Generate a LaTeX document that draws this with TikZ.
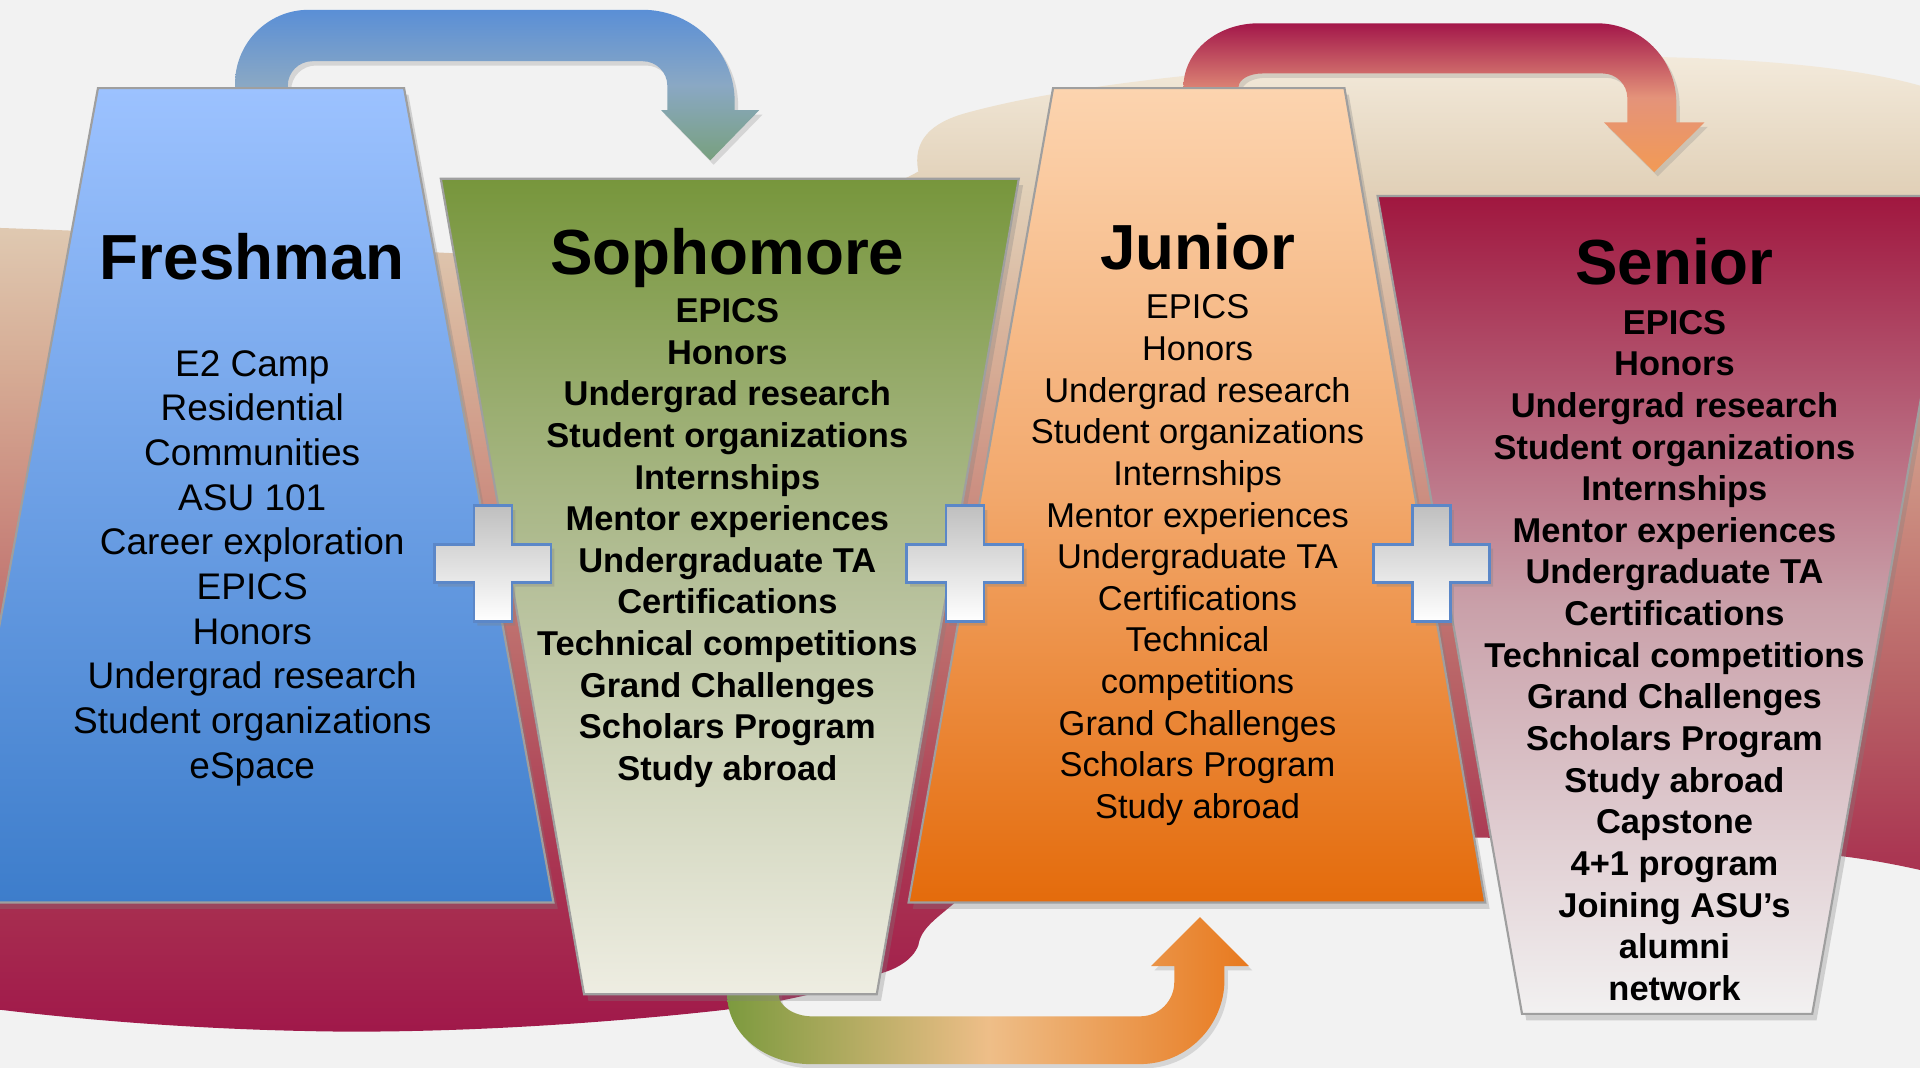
\documentclass[tikz,border=0pt]{standalone}
\usepackage{fontspec}
\setmainfont{Liberation Sans}
\usetikzlibrary{shadows}

\definecolor{bgcol}{HTML}{F2F2F2}
\definecolor{bandtop}{HTML}{F3EADB}
\definecolor{bandA}{HTML}{E2D2BA}
\definecolor{bandB}{HTML}{D6AC95}
\definecolor{bandC}{HTML}{CA8A7E}
\definecolor{bandD}{HTML}{B86266}
\definecolor{bandE}{HTML}{AA3652}
\definecolor{bandF}{HTML}{A0184A}
\definecolor{freshtop}{HTML}{9CC2FF}
\definecolor{freshbot}{HTML}{3D7DCB}
\definecolor{sophtop}{HTML}{77963C}
\definecolor{sophmid}{HTML}{B6C09A}
\definecolor{sophbot}{HTML}{EEEDE2}
\definecolor{juntop}{HTML}{FCD4AF}
\definecolor{junmid}{HTML}{F2A86C}
\definecolor{junbot}{HTML}{E46B0B}
\definecolor{sentop}{HTML}{A0173F}
\definecolor{senmid}{HTML}{C9A0A9}
\definecolor{senbot}{HTML}{F2F1F1}
\definecolor{blueA}{HTML}{5A8FD6}
\definecolor{blueB}{HTML}{8AA8C4}
\definecolor{blueC}{HTML}{78A07E}
\definecolor{redA}{HTML}{A3174A}
\definecolor{redB}{HTML}{E4937A}
\definecolor{redC}{HTML}{F29A55}
\definecolor{greenA}{HTML}{7C9A3E}
\definecolor{peachB}{HTML}{EEBE88}
\definecolor{orangeC}{HTML}{E8791E}
\definecolor{plusline}{HTML}{5B87C8}

% background ribbon, tan at the top and maroon at the bottom
\pgfdeclareverticalshading{bandshade}{100bp}{color(0bp)=(bandF); color(25bp)=(bandF);
  color(34bp)=(bandE); color(42.8bp)=(bandD); color(51.6bp)=(bandC); color(59.1bp)=(bandB);
  color(68.5bp)=(bandA); color(75bp)=(bandtop); color(100bp)=(bandtop)}

\tikzset{
  panel/.style={draw=gray!75, line width=0.5pt,
    drop shadow={shadow xshift=1pt, shadow yshift=-1.5pt, opacity=0.3}},
  fatarrow/.style={drop shadow={shadow xshift=0.8pt, shadow yshift=-1pt, opacity=0.25}},
  plusmark/.style={draw=plusline, line width=0.6pt, top color=gray!50, bottom color=white,
    drop shadow={shadow xshift=0.8pt, shadow yshift=-1pt, opacity=0.3}},
  heading/.style={anchor=base, inner sep=0pt, font=\fontsize{14.8}{17}\selectfont\bfseries},
  items/.style={anchor=north, inner sep=0pt, align=center, font=\fontsize{8}{9.67}\selectfont},
  bolditems/.style={items, font=\fontsize{8}{9.67}\selectfont\bfseries}
}

\begin{document}
\begin{tikzpicture}[x=0.01cm, y=-0.01cm]
        \useasboundingbox (0,0) rectangle (1568,872);
        \clip (0,0) rectangle (1568,872);
        \fill[bgcol] (0,0) rectangle (1568,872);

        % Ribbon behind the panels
        \shade[shading=bandshade] (-5,186) .. controls (120,190) and (250,198) .. (355,206)
          .. controls (500,215) and (700,170) .. (750,140)
          .. controls (745,115) and (760,100) .. (790,92)
          .. controls (900,62) and (1100,46) .. (1300,46)
          .. controls (1450,46) and (1530,58) .. (1575,72)
          -- (1575,712) .. controls (1540,704) and (1510,699) .. (1480,697)
          .. controls (1350,690) and (1250,684) .. (1200,684)
          .. controls (1000,690) and (820,700) .. (780,737)
          .. controls (765,750) and (752,758) .. (750,772)
          .. controls (745,785) and (730,792) .. (719,795)
          .. controls (680,810) and (620,822) .. (580,826)
          .. controls (450,840) and (330,844) .. (250,842)
          .. controls (150,840) and (60,832) .. (-5,824) -- cycle;

        % Arrows between the years
        \shade[fatarrow, top color=blueA, bottom color=blueC, middle color=blueB]
          (192,80) -- (192,68) .. controls (192,35) and (219,8) .. (252,8)
          -- (525,8) .. controls (566,8) and (600,42) .. (600,83)
          -- (600,90) -- (620,90) -- (580,131) -- (540,90) -- (545,90)
          -- (545,70) .. controls (545,59) and (536,50) .. (525,50)
          -- (255,50) .. controls (244,50) and (235,59) .. (235,70) -- (235,80) -- cycle;
        \shade[fatarrow, top color=redA, bottom color=redC, middle color=redB]
          (966.5,80) -- (966.5,71) .. controls (966.5,42) and (994,19) .. (1028,19)
          -- (1304,19) .. controls (1340,19) and (1369,48) .. (1369,84)
          -- (1369,100) -- (1392,100) -- (1351,140.5) -- (1310,100) -- (1329,100)
          -- (1329,80) .. controls (1329,69) and (1320,60) .. (1309,60)
          -- (1031,60) .. controls (1020,60) and (1011.5,65) .. (1011.5,71) -- (1011.5,80) -- cycle;
        \shade[fatarrow, left color=greenA, right color=orangeC, middle color=peachB]
          (594,805) -- (594,813) .. controls (594,844) and (624,869) .. (662,869)
          -- (931,869) .. controls (969,869) and (1000,838) .. (1000,800)
          -- (1000,789) -- (1020,789) -- (980,749) -- (940,789) -- (959,789)
          -- (959,802) .. controls (959,817) and (947,830) .. (931,830)
          -- (663,830) .. controls (648,830) and (636,821) .. (636,813) -- (636,805) -- cycle;

        % Year panels
        \shade[panel, top color=freshtop, bottom color=freshbot]
          (80,72) -- (330,72) -- (452,737) -- (-42,737) -- cycle;
        \shade[panel, top color=sophtop, bottom color=sophbot, middle color=sophmid]
          (360,146) -- (832,146) -- (716,812) -- (477,812) -- cycle;
        \shade[panel, top color=juntop, bottom color=junbot, middle color=junmid]
          (860,72) -- (1098,72) -- (1213,737) -- (742,737) -- cycle;
        \shade[panel, top color=sentop, bottom color=senbot, middle color=senmid]
          (1125,160) -- (1598,160) -- (1480,828) -- (1243,828) -- cycle;

        % Plus signs
        \foreach \px in {402.5, 788, 1169}
          \shade[plusmark] (\px-15.5,413) -- ++(31,0) -- ++(0,31.5) -- ++(32,0) -- ++(0,31)
            -- ++(-32,0) -- ++(0,32) -- ++(-31,0) -- ++(0,-32) -- ++(-32,0) -- ++(0,-31)
            -- ++(32,0) -- cycle;

        % Headings
        \node[heading] (fresh) at (206,228) {Freshman};
        \node[heading] (soph) at (594,224) {Sophomore};
        \node[heading] (jun) at (978,219.7) {Junior};
        \node[heading] (sen) at (1367.5,232) {Senior};

        % Lists
        \node[items, font=\fontsize{8.6}{10.37}\selectfont] (freshlist) at (206,285.5)
          {E2 Camp\\Residential\\Communities\\ASU 101\\Career exploration\\EPICS\\Honors\\
           Undergrad research\\Student organizations\\eSpace};
        \node[bolditems] (sophlist) at (594,243)
          {EPICS\\Honors\\Undergrad research\\Student organizations\\Internships\\
           Mentor experiences\\Undergraduate TA\\Certifications\\Technical competitions\\
           Grand Challenges\\Scholars Program\\Study abroad};
        \node[items] (junlist) at (978,240)
          {EPICS\\Honors\\Undergrad research\\Student organizations\\Internships\\
           Mentor experiences\\Undergraduate TA\\Certifications\\Technical\\competitions\\
           Grand Challenges\\Scholars Program\\Study abroad};
        \node[bolditems] (senlist) at (1367.5,252.5)
          {EPICS\\Honors\\Undergrad research\\Student organizations\\Internships\\
           Mentor experiences\\Undergraduate TA\\Certifications\\Technical competitions\\
           Grand Challenges\\Scholars Program\\Study abroad\\Capstone\\4+1 program\\
           Joining ASU’s\\alumni\\network};
    \end{tikzpicture}
\end{document}
